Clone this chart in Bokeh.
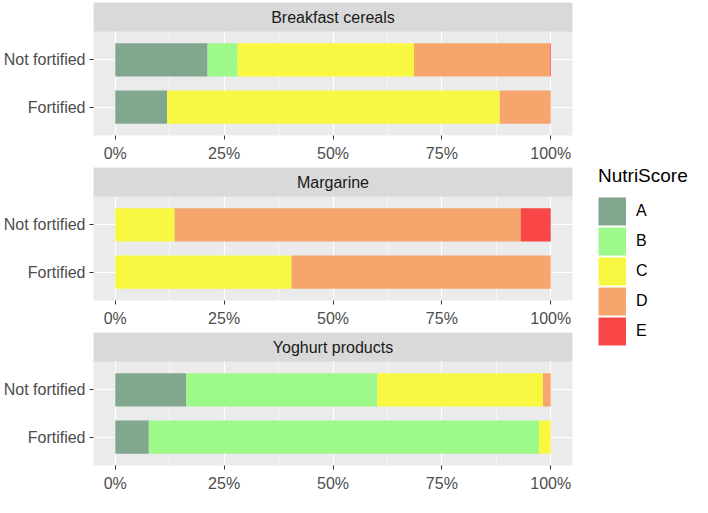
from bokeh.plotting import figure
from bokeh.layouts import column, row
from bokeh.models import (ColumnDataSource, Range1d, FixedTicker, PrintfTickFormatter,
                          BoxAnnotation, Label, Legend, LegendItem)
from bokeh.embed import file_html
from bokeh.resources import INLINE

# ---------------- data ----------------
categories = ["Breakfast cereals", "Margarine", "Yoghurt products"]
groups = ["Fortified", "Not fortified"]          # bottom to top
grades = ["A", "B", "C", "D", "E"]
grade_colors = ["#82A78F", "#9EF98B", "#F8F843", "#F6A66D", "#F94646"]

# share of products (%) per NutriScore grade, order = groups
cereals_A = [11.9, 21.2]
cereals_B = [0.0, 6.9]
cereals_C = [76.4, 40.5]
cereals_D = [11.7, 31.2]
cereals_E = [0.0, 0.2]

margarine_A = [0.0, 0.0]
margarine_B = [0.0, 0.0]
margarine_C = [40.5, 13.6]
margarine_D = [59.5, 79.5]
margarine_E = [0.0, 6.9]

yoghurt_A = [7.7, 16.3]
yoghurt_B = [89.6, 43.9]
yoghurt_C = [2.7, 38.0]
yoghurt_D = [0.0, 1.8]
yoghurt_E = [0.0, 0.0]

x_ticks = [0, 25, 50, 75, 100]
x_minor = [12.5, 37.5, 62.5, 87.5]

shares = {
    "Breakfast cereals": [cereals_A, cereals_B, cereals_C, cereals_D, cereals_E],
    "Margarine": [margarine_A, margarine_B, margarine_C, margarine_D, margarine_E],
    "Yoghurt products": [yoghurt_A, yoghurt_B, yoghurt_C, yoghurt_D, yoghurt_E],
}

# ---------------- layout constants ----------------
FONT = "Liberation Sans"
FIG_W = 574
FIG_H = 165
BORDER_TOP = 2
BORDER_BOTTOM = 30
STRIP_PX = 29
frame_h = FIG_H - BORDER_BOTTOM - BORDER_TOP
plot_px = frame_h - STRIP_PX
y_lo = 0.4
y_hi = len(groups) + 0.6
strip_u = (y_hi - y_lo) * STRIP_PX / plot_px
ypos = [i + 1 for i in range(len(groups))]


def make_panel(cat):
    p = figure(width=FIG_W, height=FIG_H,
               x_range=Range1d(-5, 105), y_range=Range1d(y_lo, y_hi + strip_u),
               output_backend="svg", toolbar_location=None,
               min_border_left=90, min_border_right=2,
               min_border_top=BORDER_TOP, min_border_bottom=BORDER_BOTTOM)
    p.background_fill_color = "#EBEBEB"
    p.border_fill_color = "white"
    p.outline_line_color = None

    data = dict(y=ypos)
    for g, vals in zip(grades, shares[cat]):
        data[g] = vals
    src = ColumnDataSource(data)
    p.hbar_stack(grades, y="y", height=0.7, fill_color=grade_colors,
                 line_color=None, source=src)

    xt = FixedTicker(ticks=x_ticks, minor_ticks=x_minor)
    yt = FixedTicker(ticks=ypos, minor_ticks=[])
    xa = p.xaxis[0]
    ya = p.yaxis[0]
    xa.ticker = xt
    ya.ticker = yt
    p.xgrid[0].ticker = xt
    p.ygrid[0].ticker = yt
    xa.formatter = PrintfTickFormatter(format="%d%%")
    ya.major_label_overrides = {pos: lab for pos, lab in zip(ypos, groups)}

    for ax in (xa, ya):
        ax.axis_line_color = None
        ax.major_tick_line_color = "#333333"
        ax.major_tick_line_width = 1
        ax.major_tick_out = 4
        ax.major_tick_in = 0
        ax.minor_tick_line_color = None
        ax.major_label_text_font = FONT
        ax.major_label_text_font_size = "16px"
        ax.major_label_text_color = "#4D4D4D"
    xa.major_label_standoff = 5
    ya.major_label_standoff = 4

    p.xgrid.grid_line_color = "white"
    p.xgrid.grid_line_width = 1.2
    p.xgrid.minor_grid_line_color = "white"
    p.xgrid.minor_grid_line_width = 0.6
    p.ygrid.grid_line_color = "white"
    p.ygrid.grid_line_width = 1.2

    p.add_layout(BoxAnnotation(bottom=y_hi, fill_color="#D9D9D9", fill_alpha=1,
                               line_color=None))
    p.add_layout(Label(x=(p.x_range.start + p.x_range.end) / 2,
                       y=y_hi + strip_u / 2, text=cat,
                       text_align="center", text_baseline="middle",
                       text_font=FONT, text_font_size="16px",
                       text_color="#1A1A1A"))
    return p


panels = [make_panel(c) for c in categories]

# ---------------- legend ----------------
LEG_W = 692 - FIG_W
leg = figure(width=LEG_W, height=FIG_H * len(categories),
             x_range=Range1d(0, 1), y_range=Range1d(0, 1),
             x_axis_location=None, y_axis_location=None,
             toolbar_location=None, output_backend="svg",
             min_border=0)
leg.outline_line_color = None
leg.grid.visible = False
items = []
for g, c in zip(grades, grade_colors):
    # zero-length proxy line: only its legend key (a thick bar) is visible
    r = leg.line(x=[0, 0], y=[0, 0], line_width=28, line_color=c)
    items.append(LegendItem(label=g, renderers=[r]))
legend = Legend(items=items, title="NutriScore", location=(24, 149),
                glyph_width=28, glyph_height=30, spacing=0,
                label_standoff=10, padding=0, margin=0,
                border_line_color=None, background_fill_alpha=0,
                title_text_font=FONT, title_text_font_size="19px",
                title_text_font_style="normal", title_text_color="black",
                title_standoff=9,
                label_text_font=FONT, label_text_font_size="16px",
                label_text_color="black")
leg.add_layout(legend)

layout = row(column(*panels, spacing=0), leg, spacing=0)

open("out.html", "w").write(file_html(layout, INLINE))
